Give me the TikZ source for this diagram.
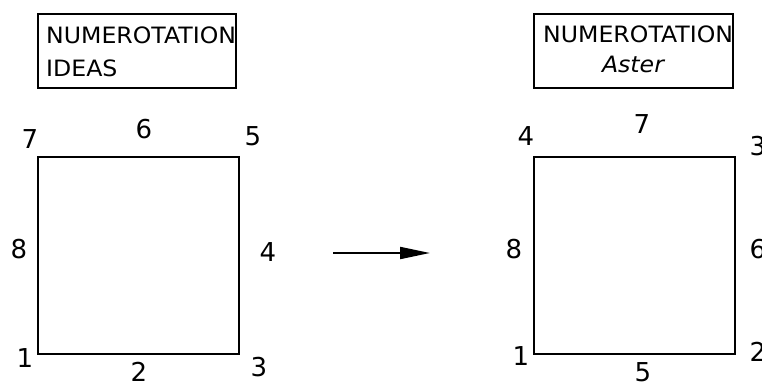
\documentclass[tikz,border=0pt]{standalone}
\usepackage{fontspec}
\setmainfont{DejaVu Sans}
\newfontfamily\titlefont[FakeStretch=1.05]{DejaVu Sans}
\usetikzlibrary{arrows.meta}
\begin{document}
\begin{tikzpicture}[x=1pt,y=-1pt,
  frame/.style={draw,line width=1.6pt,inner sep=0pt,anchor=north west},
  sq/.style={draw,line width=2pt,inner sep=0pt,anchor=north west,minimum width=201pt,minimum height=197pt},
  txt/.style={inner sep=0pt,font=\titlefont\fontsize{22.5}{27}\selectfont},
  num/.style={inner sep=0pt,font=\fontsize{26}{30}\selectfont}]
\useasboundingbox[fill=white] (0,0) rectangle (762,385);
% left
\node[frame,minimum width=198pt,minimum height=74pt] (boxL) at (37,13) {};
\node[txt,anchor=base west] (tL1) at (46,44) {NUMEROTATION};
\node[txt,anchor=base west] (tL2) at (46,77) {IDEAS};
\node[sq] (sqL) at (37,156) {};
\node[num] (l7) at (30,139) {7};
\node[num] (l6) at (144,129) {6};
\node[num] (l5) at (253,136) {5};
\node[num] (l8) at (19,249) {8};
\node[num] (l4) at (268,252) {4};
\node[num] (l1) at (25,358) {1};
\node[num] (l2) at (139,372) {2};
\node[num] (l3) at (259,367) {3};
% arrow
\coordinate (a1) at (333,253);
\coordinate (a2) at (430,253);
\draw[line width=2pt,-{Triangle[length=30pt,width=12pt]}] (a1) -- (a2);
% right
\node[frame,minimum width=199pt,minimum height=74pt] (boxR) at (533,13) {};
\node[txt,anchor=base west] (tR1) at (543,43) {NUMEROTATION};
\node[txt,anchor=base] (tR2) at (633,73) {\itshape Aster};
\node[sq] (sqR) at (533,156) {};
\node[num] (r4) at (526,136) {4};
\node[num] (r7) at (642,124) {7};
\node[num] (r3) at (758,146) {3};
\node[num] (r8) at (514,249) {8};
\node[num] (r6) at (758,249) {6};
\node[num] (r1) at (521,356) {1};
\node[num] (r5) at (643,372) {5};
\node[num] (r2) at (758,352) {2};
\end{tikzpicture}
\end{document}
